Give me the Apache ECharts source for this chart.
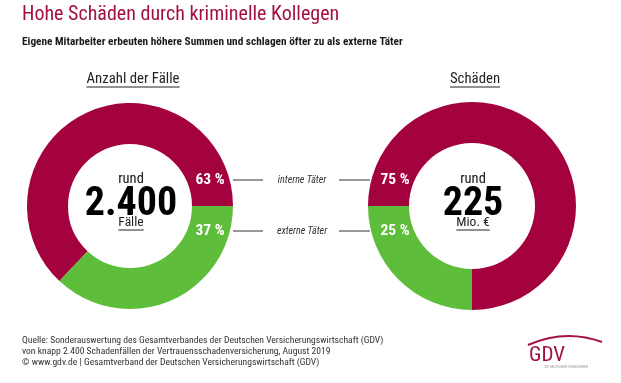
<!DOCTYPE html>
<html><head><meta charset="utf-8">
<script src="https://cdn.jsdelivr.net/npm/echarts@6/dist/echarts.min.js"></script>
<style>html,body{margin:0;padding:0;background:#fff}#c{width:621px;height:383px}</style>
</head><body><div id="c"></div>
<script>
// ---- data ----
const categories = ['interne Täter', 'externe Täter'];
const caseShares = [63, 37];      // Anzahl der Fälle, %
const damageShares = [75, 25];    // Schäden, %
const panelTitles = ['Anzahl der Fälle', 'Schäden'];
const centerPrefix = ['rund', 'rund'];
const centerValues = ['2.400', '225'];
const centerUnits = ['Fälle', 'Mio. €'];
const titleText = 'Hohe Schäden durch kriminelle Kollegen';
const subtitleText = 'Eigene Mitarbeiter erbeuten höhere Summen und schlagen öfter zu als externe Täter';
const sourceLines = [
  'Quelle: Sonderauswertung des Gesamtverbandes der Deutschen Versicherungswirtschaft (GDV)',
  'von knapp 2.400 Schadenfällen der Vertrauensschadenversicherung, August 2019',
  '© www.gdv.de | Gesamtverband der Deutschen Versicherungswirtschaft (GDV)'
];

// ---- style ----
const RED = '#A4023F', GREEN = '#5EBE3B', GREY = '#777777';
const FF = "'Roboto Condensed','Open Sans Condensed','DejaVu Sans Condensed',sans-serif";
const colors = [RED, GREEN];

const cv = document.createElement('canvas').getContext('2d');
function tw(text, size, weight) { cv.font = (weight || 'normal') + ' ' + size + 'px ' + FF; return cv.measureText(text).width; }

function txt(x, y, text, size, opt) {
  opt = opt || {};
  return { type: 'text', x: x, y: y, z: 100, silent: true, style: {
    text: text, fontSize: size, fontFamily: FF, fontWeight: opt.weight || 'normal',
    fontStyle: opt.style || 'normal', fill: opt.color || '#111',
    textAlign: opt.align || 'center', textVerticalAlign: 'middle' } };
}
function underline(cx, y, text, size, weight, color) {
  const w = tw(text, size, weight);
  return { type: 'line', z: 100, silent: true, shape: { x1: cx - w / 2, y1: y, x2: cx + w / 2, y2: y },
    style: { stroke: color || '#222', lineWidth: 1 } };
}

const panels = [
  { cx: 130, cy: 206, shares: caseShares, start: 360 * caseShares[0] / 100, rIn: 62, rOut: 103, labelX: 210 },
  { cx: 472, cy: 206, shares: damageShares, start: 180, rIn: 63, rOut: 104, labelX: 395 }
];
const rowY = [180, 231];

const graphic = [];
graphic.push(txt(22, 15, titleText, 20, { align: 'left', color: '#A3123F' }));
graphic.push(txt(22, 42, subtitleText, 11.3, { align: 'left', color: '#1a1a1a', weight: 'bold' }));
sourceLines.forEach((l, i) => graphic.push(txt(22, 341 + i * 11, l, 9.6, { align: 'left', color: '#333' })));

panels.forEach((p, k) => {
  graphic.push(txt(p.cx + 3, 79, panelTitles[k], 14.8, { color: '#222' }));
  graphic.push(underline(p.cx + 3, 87, panelTitles[k], 14.8));
  graphic.push(txt(p.cx + 1, 179, centerPrefix[k], 14.5, { color: '#111' }));
  graphic.push(txt(p.cx + 1, 205, centerValues[k], 40, { color: '#000', weight: 'bold' }));
  graphic.push(txt(p.cx + 1, 223, centerUnits[k], 13.5, { color: '#222' }));
  graphic.push(underline(p.cx + 1, 230, centerUnits[k], 13.5));
  p.shares.forEach((s, i) => graphic.push(txt(p.labelX, rowY[i], s + ' %', 15.5, { color: '#fff', weight: 'bold' })));
});

categories.forEach((c, i) => {
  graphic.push({ type: 'line', z: 100, silent: true, shape: { x1: 233, y1: rowY[i], x2: 263, y2: rowY[i] }, style: { stroke: GREY, lineWidth: 1.5 } });
  graphic.push({ type: 'line', z: 100, silent: true, shape: { x1: 339, y1: rowY[i], x2: 370, y2: rowY[i] }, style: { stroke: GREY, lineWidth: 1.5 } });
  graphic.push(txt(302, rowY[i], c, 10, { style: 'italic', color: '#333' }));
});

// GDV logo
graphic.push({ type: 'bezierCurve', z: 100, silent: true, shape: { x1: 528, y1: 345, x2: 602, y2: 342, cpx1: 555, cpy1: 333, cpx2: 580, cpy2: 334 }, style: { stroke: '#A3123F', lineWidth: 2, fill: null } });
graphic.push(txt(547, 356, 'GDV', 21, { color: '#A3123F' }));
graphic.push(txt(566, 367, 'DIE DEUTSCHEN VERSICHERER', 3.5, { color: '#999' }));

const series = panels.map(p => ({
  type: 'pie', silent: true, clockwise: true, startAngle: p.start,
  center: [p.cx, p.cy], radius: [p.rIn, p.rOut], label: { show: false }, labelLine: { show: false },
  itemStyle: { borderWidth: 0 },
  data: categories.map((c, i) => ({ name: c, value: p.shares[i], itemStyle: { color: colors[i] } }))
}));

const chart = echarts.init(document.getElementById('c'), null, { renderer: 'canvas' });
chart.setOption({ backgroundColor: '#fff', animation: false, series: series, graphic: graphic });
</script></body></html>
